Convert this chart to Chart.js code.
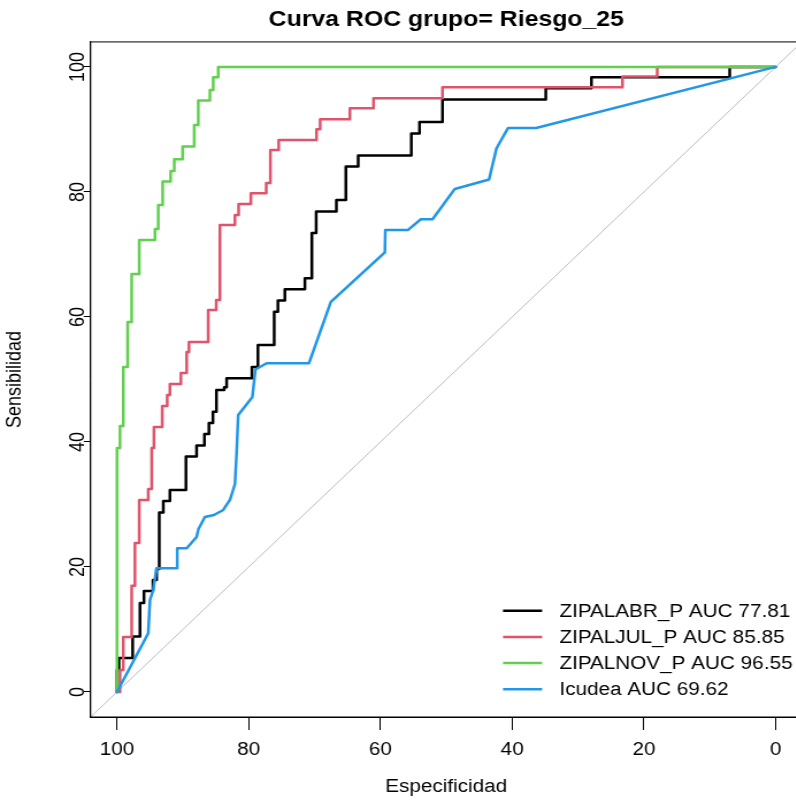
<!DOCTYPE html>
<html><head><meta charset="utf-8">
<script src="https://cdn.jsdelivr.net/npm/chart.js@4.4.1/dist/chart.umd.min.js"></script>
<style>
html,body{margin:0;padding:0;width:796px;height:801px;overflow:hidden;background:#fff}
#wrap{position:absolute;left:0;top:0;width:700px;height:801px;transform:scaleX(1.15);transform-origin:0 0}
canvas{display:block}
</style></head><body>
<div id="wrap"><canvas id="c" width="700" height="801"></canvas></div>
<script>
// ---- data (specificity %, sensitivity %) ----
const labels = ['ZIPALABR_P AUC 77.81', 'ZIPALJUL_P AUC 85.85', 'ZIPALNOV_P AUC 96.55', 'Icudea AUC 69.62'];
const colors = ['#000000', '#DF536B', '#61D04F', '#2297E6'];

// step corners (vertical first, then horizontal)
const specABR = [100,99.70,97.62,96.51,95.90,94.54,93.98,93.58,92.97,91.96,89.53,87.91,86.72,86.04,85.43,84.90,83.72,83.35,79.51,78.60,76.13,75.57,74.51,71.47,70.41,69.76,66.69,65.25,63.38,55.31,54.07,50.58,34.90,27.97,6.98,0];
const sensABR = [0,3.52,5.44,8.88,14.24,16.16,17.92,19.68,28.72,30.56,32.32,37.68,39.44,41.28,43.04,44.85,48.32,48.75,50.19,52.0,55.52,60.85,62.64,64.43,66.19,73.44,76.88,78.72,84.05,85.84,89.36,91.2,94.8,96.59,98.35,100];

const specJUL = [100,99.54,99.04,97.77,97.27,96.62,95.25,94.73,94.39,93.13,92.37,91.96,90.29,89.42,89.07,86.15,84.93,84.37,82.09,81.53,79.67,77.34,76.71,75.45,69.70,69.15,64.64,61.05,50.58,23.26,17.98,0];
const sensJUL = [0,0,3.52,8.8,17.0,23.84,30.72,32.48,39.04,42.4,45.76,47.52,49.28,51.04,54.4,56.0,61.12,62.72,74.72,76.32,78.08,79.8,81.44,86.72,88.32,90.03,91.63,93.39,95.0,96.75,98.45,100];

const specNOV = [100,99.54,99.04,98.38,97.77,96.62,94.23,93.73,93.07,91.85,91.30,90.03,88.27,87.66,85.89,85.39,84.63,0];
const sensNOV = [0,39.04,42.56,52.0,59.2,66.88,72.32,74.08,77.92,81.65,83.36,85.23,87.25,90.72,94.61,96.32,98.35,100];

// polyline vertices (ties give diagonal segments)
const specICU = [100,95.25,94.99,94.49,94.01,90.85,90.85,89.42,87.91,87.63,86.65,85.28,83.87,82.85,82.09,81.84,81.59,79.44,78.98,77.28,70.86,67.53,59.33,59.26,55.80,53.87,52.09,48.71,43.51,42.38,40.62,36.37,0];
const sensICU = [0,9.39,14.72,16.32,19.79,19.79,22.99,22.99,24.8,26.08,28.0,28.32,29.12,30.72,33.28,38.24,44.32,47.2,51.6,52.59,52.59,62.4,70.32,73.92,73.92,75.63,75.63,80.48,82.0,86.99,90.24,90.24,100];

// chance diagonal, spanning the axis limits
const diagSpec = [104, -4];
const diagSens = [-4, 104];

const tickValues = [0, 20, 40, 60, 80, 100];
const axisMin = -4, axisMax = 104;

const FONT = '"Liberation Sans", Arial, Helvetica, sans-serif';
const pts = (xs, ys) => xs.map((x, i) => ({x, y: ys[i]}));

const series = [
  {x: specABR, y: sensABR, stepped: 'after', order: 4},
  {x: specJUL, y: sensJUL, stepped: 'after', order: 3},
  {x: specNOV, y: sensNOV, stepped: 'after', order: 2},
  {x: specICU, y: sensICU, stepped: false, order: 1}
];

const datasets = series.map((s, i) => ({
  label: labels[i],
  data: pts(s.x, s.y),
  borderColor: colors[i],
  backgroundColor: colors[i],
  borderWidth: 2.5,
  pointRadius: 0,
  showLine: true,
  fill: false,
  tension: 0,
  stepped: s.stepped,
  borderJoinStyle: 'round',
  borderCapStyle: 'round',
  order: s.order,
  isCurve: true
}));
datasets.push({
  label: 'diag', data: pts(diagSpec, diagSens), borderColor: '#BEBEBE', borderWidth: 1,
  pointRadius: 0, showLine: true, fill: false, order: 10, isCurve: false
});

const boxPlugin = {
  id: 'rbox',
  afterDraw(chart) {
    const {ctx, chartArea: a} = chart;
    ctx.save();
    ctx.strokeStyle = '#000';
    ctx.lineWidth = 1;
    ctx.strokeRect(a.left, a.top, a.right - a.left, a.bottom - a.top);
    ctx.restore();
  }
};

const legendPlugin = {
  id: 'rlegend',
  afterDraw(chart) {
    const {ctx, chartArea: a} = chart;
    const items = chart.data.datasets.filter(d => d.isCurve);
    const lineX0 = a.right - 260, lineX1 = a.right - 226, textX = a.right - 211;
    const y0 = a.bottom - 106.3, dy = 26.2;
    ctx.save();
    ctx.font = '18px ' + FONT;
    ctx.textBaseline = 'middle';
    ctx.textAlign = 'left';
    items.forEach((d, i) => {
      const y = y0 + i * dy;
      ctx.strokeStyle = d.borderColor;
      ctx.lineWidth = 2.5;
      ctx.beginPath(); ctx.moveTo(lineX0, y); ctx.lineTo(lineX1, y); ctx.stroke();
      ctx.fillStyle = '#000';
      ctx.fillText(d.label, textX, y + 1);
    });
    ctx.restore();
  }
};

new Chart(document.getElementById('c'), {
  type: 'scatter',
  data: {datasets},
  options: {
    responsive: false,
    devicePixelRatio: 1,
    animation: false,
    events: [],
    layout: {padding: {left: 0, right: 2.6, top: 0, bottom: 0}},
    plugins: {
      legend: {display: false},
      tooltip: {enabled: false},
      title: {
        display: true, text: 'Curva ROC grupo= Riesgo_25', fullSize: false,
        color: '#000', font: {family: FONT, size: 21.6, weight: 'bold', lineHeight: 1.2},
        padding: {top: 7, bottom: 9}
      }
    },
    scales: {
      x: {
        type: 'linear', reverse: true, min: axisMin, max: axisMax,
        afterBuildTicks: s => { s.ticks = tickValues.map(v => ({value: v})); },
        afterFit: s => { s.height = 84; },
        grid: {display: true, drawOnChartArea: false, drawTicks: true, tickLength: 13, color: '#000', lineWidth: 1},
        border: {display: true, color: '#000', width: 1},
        ticks: {color: '#000', font: {family: FONT, size: 18}, padding: 9, maxRotation: 0, minRotation: 0,
                callback: v => String(v)},
        title: {display: true, text: 'Especificidad', color: '#000', font: {family: FONT, size: 18, lineHeight: 1.2},
                padding: {top: 0, bottom: 3}}
      },
      y: {
        type: 'linear', min: axisMin, max: axisMax,
        afterBuildTicks: s => { s.ticks = tickValues.map(v => ({value: v})); },
        afterFit: s => { s.width = 78.8; },
        grid: {display: true, drawOnChartArea: false, drawTicks: true, tickLength: 6, color: '#000', lineWidth: 1},
        border: {display: true, color: '#000', width: 1},
        ticks: {color: '#000', font: {family: FONT, size: 18}, padding: -10, minRotation: 90, maxRotation: 90,
                crossAlign: 'center', callback: v => String(v)},
        title: {display: true, text: 'Sensibilidad', color: '#000', font: {family: FONT, size: 18, lineHeight: 1.2},
                padding: {top: 2, bottom: 0}}
      }
    }
  },
  plugins: [boxPlugin, legendPlugin]
});
</script>
</body></html>
